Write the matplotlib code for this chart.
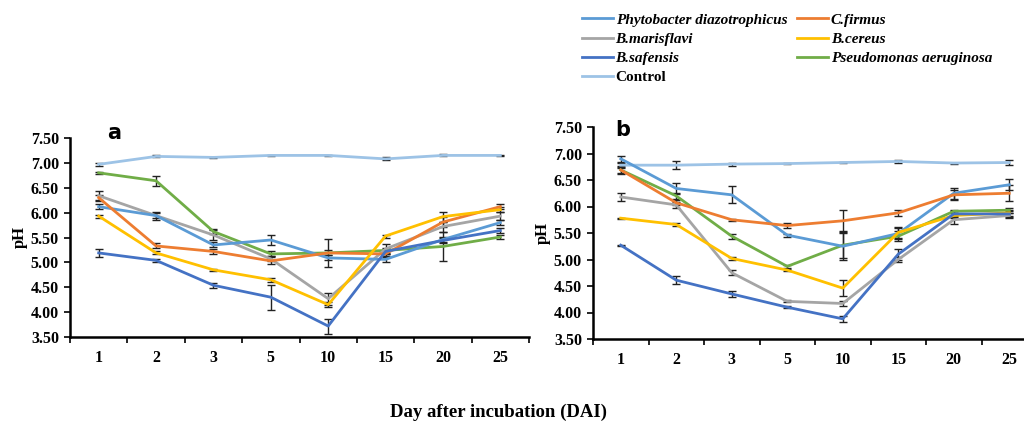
import matplotlib
matplotlib.use("Agg")
import matplotlib.pyplot as plt
import numpy as np

days = ["1", "2", "3", "5", "10", "15", "20", "25"]
series_names = ["Phytobacter diazotrophicus", "B.marisflavi", "B.safensis", "Control",
                "C.firmus", "B.cereus", "Pseudomonas aeruginosa"]
colors = {"Phytobacter diazotrophicus": "#5B9BD5", "B.marisflavi": "#A5A5A5",
          "B.safensis": "#4472C4", "Control": "#9DC3E6", "C.firmus": "#ED7D31",
          "B.cereus": "#FFC000", "Pseudomonas aeruginosa": "#70AD47"}

# Panel a values
a_phyto = [6.12, 5.94, 5.35, 5.45, 5.09, 5.06, 5.46, 5.80]
a_maris = [6.34, 5.94, 5.55, 5.07, 4.27, 5.27, 5.72, 5.93]
a_safen = [5.19, 5.04, 4.54, 4.30, 3.72, 5.22, 5.44, 5.64]
a_ctrl = [6.97, 7.13, 7.11, 7.15, 7.15, 7.08, 7.15, 7.15]
a_firm = [6.30, 5.33, 5.22, 5.03, 5.19, 5.17, 5.81, 6.12]
a_cere = [5.93, 5.19, 4.85, 4.65, 4.15, 5.53, 5.92, 6.06]
a_pseu = [6.80, 6.64, 5.62, 5.17, 5.19, 5.24, 5.32, 5.51]

a_phyto_e = [0.05, 0.05, 0.05, 0.10, 0.05, 0.05, 0.05, 0.05]
a_maris_e = [0.10, 0.08, 0.10, 0.05, 0.12, 0.10, 0.10, 0.08]
a_safen_e = [0.08, 0.03, 0.05, 0.25, 0.15, 0.05, 0.05, 0.05]
a_ctrl_e = [0.03, 0.02, 0.01, 0.01, 0.01, 0.03, 0.02, 0.01]
a_firm_e = [0.05, 0.05, 0.05, 0.07, 0.28, 0.05, 0.10, 0.05]
a_cere_e = [0.03, 0.03, 0.02, 0.04, 0.05, 0.03, 0.10, 0.05]
a_pseu_e = [0.02, 0.10, 0.05, 0.05, 0.05, 0.05, 0.30, 0.05]

# Panel b values
b_phyto = [6.90, 6.34, 6.22, 5.46, 5.25, 5.49, 6.25, 6.41]
b_maris = [6.18, 6.03, 4.75, 4.21, 4.17, 5.00, 5.75, 5.83]
b_safen = [5.27, 4.61, 4.35, 4.10, 3.88, 5.10, 5.86, 5.86]
b_ctrl = [6.78, 6.78, 6.80, 6.81, 6.83, 6.85, 6.82, 6.83]
b_firm = [6.69, 6.07, 5.75, 5.64, 5.73, 5.88, 6.22, 6.25]
b_cere = [5.78, 5.66, 5.02, 4.80, 4.46, 5.51, 5.83, 5.88]
b_pseu = [6.69, 6.20, 5.44, 4.87, 5.27, 5.44, 5.91, 5.93]

b_phyto_e = [0.06, 0.10, 0.16, 0.03, 0.25, 0.10, 0.10, 0.10]
b_maris_e = [0.08, 0.05, 0.05, 0.02, 0.05, 0.05, 0.08, 0.05]
b_safen_e = [0.01, 0.07, 0.05, 0.02, 0.06, 0.10, 0.05, 0.05]
b_ctrl_e = [0.05, 0.07, 0.03, 0.01, 0.01, 0.02, 0.01, 0.04]
b_firm_e = [0.08, 0.05, 0.02, 0.04, 0.20, 0.05, 0.10, 0.15]
b_cere_e = [0.01, 0.02, 0.02, 0.02, 0.15, 0.10, 0.05, 0.05]
b_pseu_e = [0.05, 0.05, 0.05, 0.03, 0.25, 0.10, 0.03, 0.05]

panel_a = [a_phyto, a_maris, a_safen, a_ctrl, a_firm, a_cere, a_pseu]
panel_a_err = [a_phyto_e, a_maris_e, a_safen_e, a_ctrl_e, a_firm_e, a_cere_e, a_pseu_e]
panel_b = [b_phyto, b_maris, b_safen, b_ctrl, b_firm, b_cere, b_pseu]
panel_b_err = [b_phyto_e, b_maris_e, b_safen_e, b_ctrl_e, b_firm_e, b_cere_e, b_pseu_e]

serif = "Liberation Serif"
fig = plt.figure(figsize=(10.24, 4.25), dpi=100)
W, H = 1024, 425

def make_ax(l, r, t, b):
    return fig.add_axes([l / W, 1 - b / H, (r - l) / W, (b - t) / H])

ax_a = make_ax(70, 529, 138, 337)
ax_b = make_ax(593, 1037, 127, 339)

x = np.arange(len(days))
draw_order = [3, 6, 1, 0, 4, 5, 2]
handles = {}
for ax, vals, errs in [(ax_a, panel_a, panel_a_err), (ax_b, panel_b, panel_b_err)]:
    for i in draw_order:
        name = series_names[i]
        ax.errorbar(x, vals[i], yerr=errs[i], fmt="none", ecolor="#222222",
                    elinewidth=1.0, capsize=3, capthick=1.0, zorder=2)
        ln, = ax.plot(x, vals[i], color=colors[name], lw=2.0, label=name, zorder=3)
        handles[name] = ln
    ax.set_xlim(-0.5, len(days) - 0.5)
    ax.set_ylim(3.5, 7.5)
    ax.set_yticks(np.arange(3.5, 7.51, 0.5))
    ax.set_yticklabels([f"{v:.2f}" for v in np.arange(3.5, 7.51, 0.5)],
                       fontfamily=serif, fontweight="bold", fontsize=11.5)
    ax.set_xticks(x)
    ax.set_xticklabels(days, fontfamily=serif, fontweight="bold", fontsize=11.5)
    ax.set_xticks(np.arange(-0.5, len(days), 1.0), minor=True)
    ax.tick_params(axis="x", which="major", length=0, pad=9)
    ax.tick_params(axis="x", which="minor", length=4, width=1.2, direction="out")
    ax.tick_params(axis="y", length=4, width=1.2, direction="out", pad=4)
    for s in ["top", "right"]:
        ax.spines[s].set_visible(False)
    for s in ["left", "bottom"]:
        ax.spines[s].set_linewidth(1.8)
    ax.set_ylabel("pH", fontfamily=serif, fontweight="bold", fontsize=12, labelpad=2)

ax_a.text(0.08, 1.025, "a", transform=ax_a.transAxes, fontsize=15, fontweight="bold",
          fontfamily="DejaVu Sans", va="center", ha="left")
ax_b.text(0.05, 0.985, "b", transform=ax_b.transAxes, fontsize=15, fontweight="bold",
          fontfamily="DejaVu Sans", va="center", ha="left")

fig.text(498 / W, 1 - 412 / H, "Day after incubation (DAI)", fontfamily=serif,
         fontweight="bold", fontsize=13.5, ha="center", va="center")

leg = fig.legend([handles[n] for n in series_names], series_names, ncol=2,
                 loc="upper left", bbox_to_anchor=(582 / W, 1 - 13 / H),
                 frameon=False, borderpad=0, borderaxespad=0,
                 handlelength=2.0, handletextpad=0.2,
                 columnspacing=0.65, labelspacing=0.36,
                 prop={"family": serif, "weight": "bold", "style": "italic", "size": 11})
for t in leg.get_texts():
    if t.get_text() == "Control":
        t.set_fontstyle("normal")

fig.savefig("out.png", dpi=100)
